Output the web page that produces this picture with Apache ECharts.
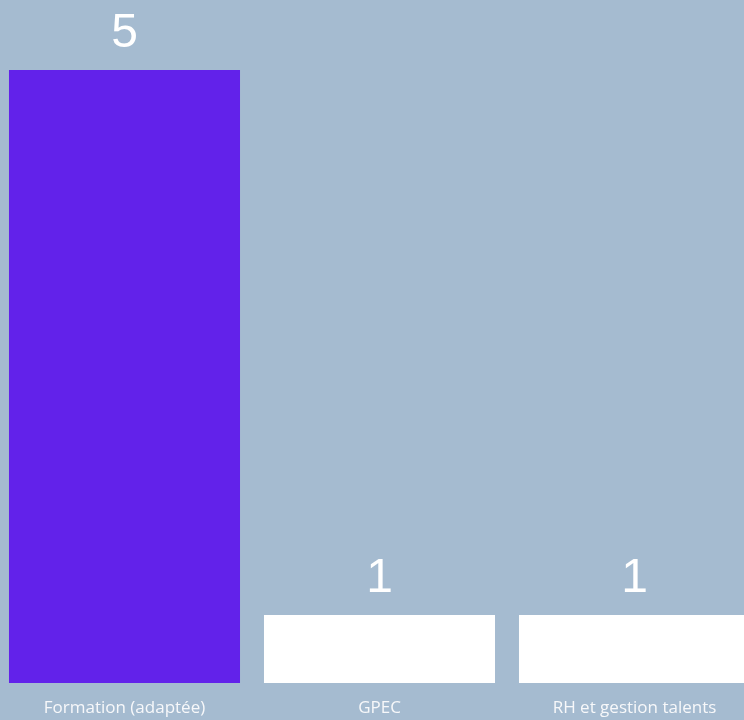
<!DOCTYPE html>
<html>
<head>
<meta charset="utf-8">
<script src="https://cdn.jsdelivr.net/npm/echarts@6/dist/echarts.min.js"></script>
<style>
html,body{margin:0;padding:0;background:#a5bbd0;overflow:hidden;width:744px;height:720px;}
#chart{position:absolute;left:-3px;top:0;width:765px;height:720px;}
</style>
</head>
<body>
<div id="chart"></div>
<script>
var categories = ['Formation (adaptée)', 'GPEC', 'RH et gestion talents'];
var values = [5, 1, 1];
var barColors = ['#6222ea', '#ffffff', '#ffffff'];

var chart = echarts.init(document.getElementById('chart'));
chart.setOption({
  backgroundColor: '#a5bbd0',
  animation: false,
  grid: { left: 0, right: 0, top: 70, bottom: 37, containLabel: false },
  xAxis: {
    type: 'category',
    data: categories,
    axisLine: { show: false },
    axisTick: { show: false },
    axisLabel: { color: '#f7f8fa', fontSize: 17, fontFamily: 'Open Sans', margin: 17, interval: 0 }
  },
  yAxis: {
    type: 'value',
    min: 0.5,
    max: 5,
    show: false,
    splitLine: { show: false }
  },
  series: [{
    type: 'bar',
    barCategoryGap: '9.4%',
    data: values.map(function (v, i) { return { value: v, itemStyle: { color: barColors[i] } }; }),
    label: {
      show: true,
      position: 'top',
      distance: 12,
      color: '#ffffff',
      fontSize: 48,
      fontFamily: 'Liberation Sans'
    }
  }]
});
</script>
</body>
</html>
